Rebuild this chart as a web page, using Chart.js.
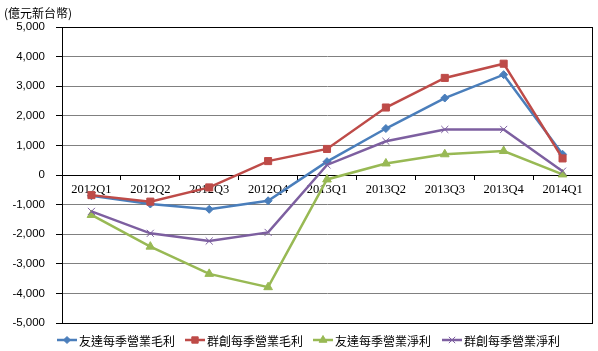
<!DOCTYPE html>
<html>
<head>
<meta charset="utf-8">
<script src="https://cdn.jsdelivr.net/npm/chart.js@4"></script>
<style>
  body { margin: 0; background: #fff; }
  #wrap { width: 598px; height: 351px; }
</style>
</head>
<body>
<div id="wrap"><canvas id="quarterChart"></canvas></div>
<script>
const quarters = ['2012Q1', '2012Q2', '2012Q3', '2012Q4', '2013Q1', '2013Q2', '2013Q3', '2013Q4', '2014Q1'];
const auoGross = [-700, -980, -1160, -870, 450, 1570, 2600, 3390, 700];
const innoluxGross = [-680, -900, -420, 470, 880, 2280, 3280, 3760, 560];
const auoNet = [-1350, -2420, -3340, -3790, -150, 390, 700, 810, 20];
const innoluxNet = [-1230, -1970, -2230, -1940, 340, 1140, 1540, 1540, 130];
const seriesNames = ['友達每季營業毛利', '群創每季營業毛利', '友達每季營業淨利', '群創每季營業淨利'];
const unitLabel = '(億元新台幣)';

const colors = ['#4A7EBB', '#BE4B48', '#98B954', '#7D5FA0'];
const markers = ['rectRot', 'rect', 'triangle', 'crossRot'];
const radii = [4, 5, 5, 5];

function makeSet(i, values, order) {
    return {
        label: seriesNames[i],
        data: values,
        borderColor: colors[i],
        backgroundColor: colors[i],
        borderWidth: 2.5,
        pointStyle: markers[i],
        pointRadius: radii[i],
        pointBorderWidth: 1,
        pointBackgroundColor: colors[i],
        pointBorderColor: colors[i],
        tension: 0,
        order: order
    };
}

// frame, unit label and legend drawn straight on the canvas
const extras = {
    id: 'extras',
    afterDraw(chart) {
        const ctx = chart.ctx;
        const a = chart.chartArea;
        ctx.save();
        ctx.strokeStyle = '#000';
        ctx.lineWidth = 1;
        ctx.strokeRect(Math.round(a.left) + 0.5, Math.round(a.top) + 0.5,
            Math.round(a.right - a.left), Math.round(a.bottom - a.top));

        ctx.fillStyle = '#000';
        ctx.font = '12px "Noto Sans CJK TC"';
        ctx.textBaseline = 'middle';
        ctx.textAlign = 'left';
        ctx.fillText(unitLabel, 4, 13);

        // legend
        const starts = [57, 185, 313, 442];
        const y = 340;
        ctx.font = '12px "Noto Sans CJK TC"';
        chart.data.datasets.forEach((ds, i) => {
            const x0 = starts[i];
            ctx.strokeStyle = colors[i];
            ctx.lineWidth = 2.5;
            ctx.beginPath();
            ctx.moveTo(x0, y);
            ctx.lineTo(x0 + 20, y);
            ctx.stroke();
            ctx.fillStyle = colors[i];
            ctx.lineWidth = 1;
            Chart.helpers.drawPoint(ctx, {
                pointStyle: markers[i], radius: radii[i] - 0.5, rotation: 0, borderWidth: 1
            }, x0 + 10, y);
            ctx.fillStyle = '#000';
            ctx.fillText(ds.label, x0 + 22, y + 1);
        });
        ctx.restore();
    }
};

new Chart(document.getElementById('quarterChart'), {
    type: 'line',
    data: {
        labels: quarters,
        datasets: [
            makeSet(0, auoGross, 4),
            makeSet(1, innoluxGross, 3),
            makeSet(2, auoNet, 2),
            makeSet(3, innoluxNet, 1)
        ]
    },
    options: {
        responsive: true,
        maintainAspectRatio: false,
        animation: false,
        layout: { padding: { top: 27, right: 5, bottom: 28, left: 0 } },
        plugins: {
            legend: { display: false },
            tooltip: { enabled: false }
        },
        scales: {
            x: {
                position: { y: 0 },
                offset: true,
                grid: {
                    offset: true,
                    drawOnChartArea: false,
                    tickLength: 4,
                    color: '#000'
                },
                border: { color: '#000', width: 1 },
                ticks: {
                    color: '#000',
                    padding: 3,
                    maxRotation: 0,
                    font: { family: '"Liberation Serif"', size: 12.5 }
                }
            },
            y: {
                min: -5000,
                max: 5000,
                afterFit(scale) { scale.width = 62; },
                grid: {
                    color: '#808080',
                    lineWidth: 1,
                    tickLength: 6,
                    tickColor: '#000'
                },
                border: { color: '#000', width: 1 },
                ticks: {
                    stepSize: 1000,
                    color: '#000',
                    padding: 11,
                    font: { family: '"Liberation Sans"', size: 11.5 },
                    callback: v => v.toLocaleString('en-US')
                }
            }
        }
    },
    plugins: [extras]
});
</script>
</body>
</html>
